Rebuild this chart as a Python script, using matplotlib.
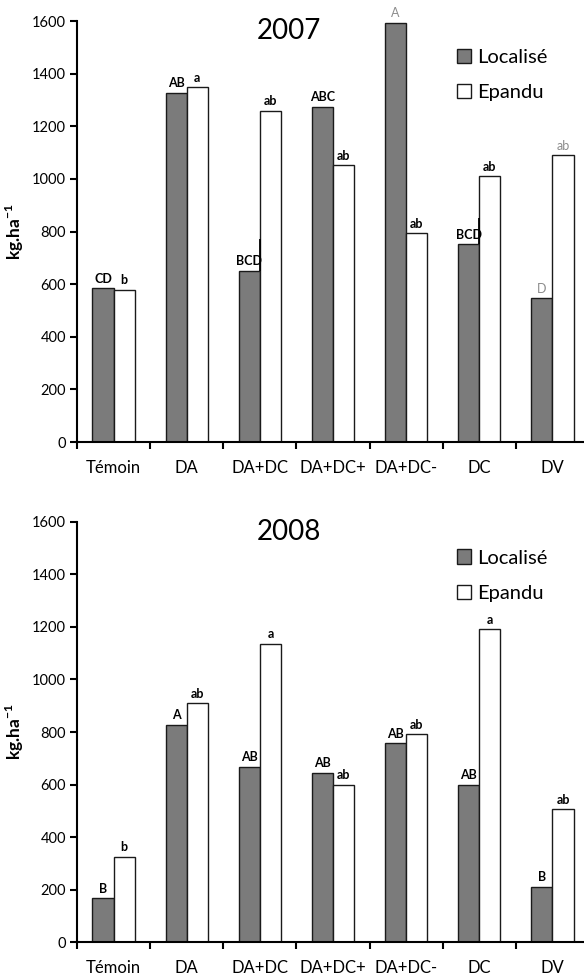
import matplotlib.pyplot as plt
from matplotlib.patches import Patch
import numpy as np

plt.rcParams['font.family'] = ['Lato', 'DejaVu Sans']
plt.rcParams['mathtext.fontset'] = 'custom'
plt.rcParams['mathtext.rm'] = 'Lato'
plt.rcParams['mathtext.bf'] = 'Lato:bold'

# donnees
categories = ['Témoin', 'DA', 'DA+DC', 'DA+DC+', 'DA+DC-', 'DC', 'DV']

loc_2007 = [584, 1328, 650, 1274, 1594, 751, 546]
epa_2007 = [578, 1348, 1259, 1052, 793, 1011, 1090]
lett_loc_2007 = ['CD', 'AB', 'BCD', 'ABC', 'A', 'BCD', 'D']
lett_epa_2007 = ['b', 'a', 'ab', 'ab', 'ab', 'ab', 'ab']
err_top_2007 = [0, 0, 771, 0, 0, 850, 0]

loc_2008 = [167, 827, 668, 645, 757, 600, 211]
epa_2008 = [326, 909, 1135, 600, 791, 1191, 507]
lett_loc_2008 = ['B', 'A', 'AB', 'AB', 'AB', 'AB', 'B']
lett_epa_2008 = ['b', 'ab', 'a', 'ab', 'ab', 'a', 'ab']

# lettres en gris (moins lisibles sur l'original)
gris_2007 = {('L', 4), ('L', 6), ('E', 6)}

dark = '#7b7b7b'
w = 0.29


def panel(ax, year, loc, epa, lett_loc, lett_epa, err_top=None, gris=()):
    x = np.arange(len(categories)) + 0.5
    ax.bar(x - w / 2, loc, w, color=dark, edgecolor='#1a1a1a', linewidth=1.0, label='Localisé')
    ax.bar(x + w / 2, epa, w, color='white', edgecolor='#1a1a1a', linewidth=1.0, label='Epandu')

    if err_top is not None:
        for i in range(len(x)):
            if err_top[i] > 0:
                ax.vlines(x[i], loc[i], err_top[i], color='black', linewidth=1.3)

    for i in range(len(x)):
        g = ('L', i) in gris
        ax.annotate(lett_loc[i], (x[i] - w / 2, loc[i]), xytext=(0, 2.5), textcoords='offset points',
                    ha='center', va='bottom', fontsize=9,
                    fontweight='normal' if g else 'bold', color='#8c8c8c' if g else 'black')
        g = ('E', i) in gris
        ax.annotate(lett_epa[i], (x[i] + w / 2, epa[i]), xytext=(0, 2.5), textcoords='offset points',
                    ha='center', va='bottom', fontsize=9,
                    fontweight='normal' if g else 'bold', color='#8c8c8c' if g else 'black')

    ax.set_xlim(0, 7)
    ax.set_ylim(0, 1600)
    ax.set_yticks(np.arange(0, 1601, 200))
    ax.set_xticks(np.arange(0, 8))
    ax.set_xticklabels([])
    ax.set_xticks(x, minor=True)
    ax.set_xticklabels(categories, minor=True, fontsize=12)
    ax.tick_params(axis='x', which='major', length=5, width=1.5, direction='out')
    ax.tick_params(axis='x', which='minor', length=0, pad=13)
    ax.tick_params(axis='y', length=5, width=1.5, labelsize=10.5, pad=3)
    for s in ['top', 'right']:
        ax.spines[s].set_visible(False)
    for s in ['left', 'bottom']:
        ax.spines[s].set_linewidth(1.5)
    ax.set_ylabel(r'kg.ha$^{\mathbf{-1}}$', fontsize=12.5, fontweight='bold', labelpad=4)
    ax.text(0.414, 0.976, year, transform=ax.transAxes, ha='center', va='center', fontsize=20)
    handles = [Patch(facecolor=dark, edgecolor='#1a1a1a'), Patch(facecolor='white', edgecolor='#1a1a1a')]
    ax.legend(handles, ['Localisé', 'Epandu'], loc='upper left', bbox_to_anchor=(0.742, 0.934),
              frameon=False, borderpad=0, borderaxespad=0, handlelength=0.7, handleheight=0.7,
              handletextpad=0.3, labelspacing=0.9, fontsize=14.5)


fig = plt.figure(figsize=(5.84, 9.76), dpi=100)
ax1 = fig.add_axes([77 / 584, 534 / 976, 512 / 584, 421 / 976])
ax2 = fig.add_axes([77 / 584, 33.7 / 976, 512 / 584, 420.6 / 976])

panel(ax1, '2007', loc_2007, epa_2007, lett_loc_2007, lett_epa_2007, err_top_2007, gris_2007)
panel(ax2, '2008', loc_2008, epa_2008, lett_loc_2008, lett_epa_2008)

fig.savefig('out.png', dpi=100)
